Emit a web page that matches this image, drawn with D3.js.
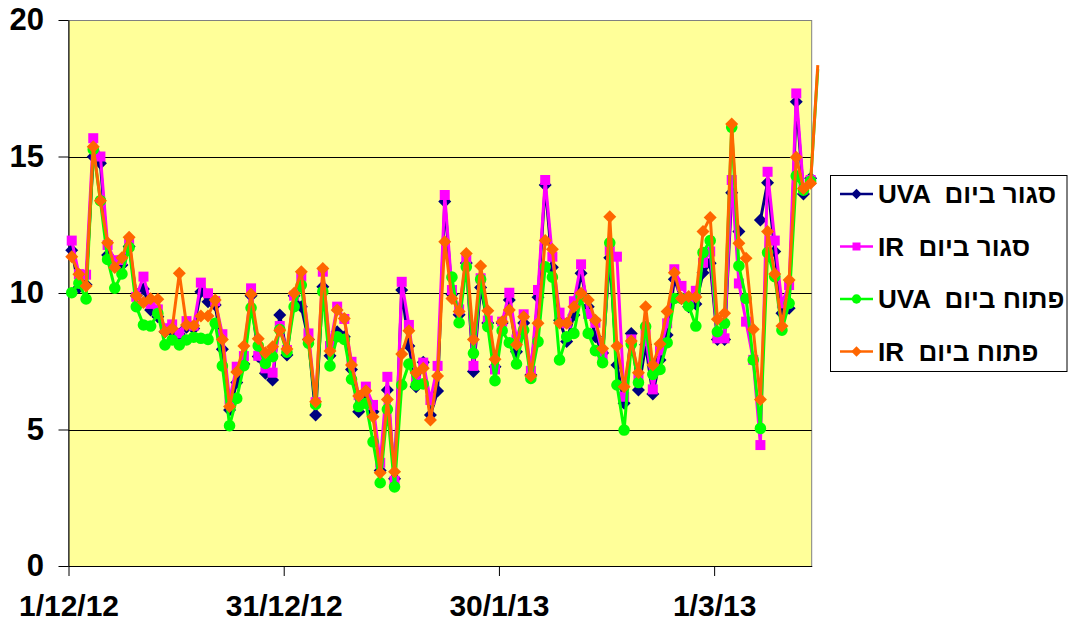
<!DOCTYPE html>
<html>
<head>
<meta charset="utf-8">
<script src="https://cdn.jsdelivr.net/npm/d3@7"></script>
<style>
body { margin: 0; background: #fff; }
text { font-family: "Liberation Sans", Arial, sans-serif; font-weight: bold; }
</style>
</head>
<body>
<svg id="chart" width="1069" height="623"></svg>
<script>
// x axis: day offsets from 1/12/12
var tickDays = [0, 30, 60, 90];
var tickLabels = ["1/12/12", "31/12/12", "30/1/13", "1/3/13"];
var yTicks = [0, 5, 10, 15, 20];

// one value per day, null = no reading
var uvaClosed = [11.57,10.2,10.3,14.99,14.75,11.39,11.1,11.03,11.7,9.9,
  10.15,9.38,9.13,8.58,8.6,8.5,8.75,8.7,10.05,9.68,
  9.56,7.94,5.71,6.72,7.4,9.9,7.67,7.06,6.81,9.19,
  7.73,9.9,9.5,8.3,5.53,10.23,7.7,8.58,8.4,7.2,
  5.65,6.1,5.65,3.5,6.45,3.2,10.11,8.06,6.57,7.46,
  5.53,6.41,13.35,9.95,9.2,11.1,7.12,10.2,8.9,7.3,
  8.9,9.74,7.85,8.9,7.0,9.84,13.96,10.94,9.0,8.22,
  9.19,10.72,9.5,8.4,7.8,11.29,7.36,5.96,8.52,6.45,
  8.1,6.3,7.55,8.46,10.5,9.8,9.5,9.6,10.74,11.09,
  8.3,8.3,13.67,12.25,null,null,12.67,14.04,11.52,9.26,
  9.44,17.01,13.63,14.2,null];
var irClosed = [11.92,10.69,10.67,15.67,15.0,11.76,11.2,11.21,11.9,9.86,
  10.6,9.6,9.4,8.71,8.85,8.52,8.97,8.8,10.38,9.99,
  9.7,8.49,6.1,7.3,7.69,10.17,7.7,7.24,7.08,8.79,
  7.91,9.9,10.6,8.52,6.0,10.78,8.06,9.5,9.05,7.48,
  6.26,6.57,5.9,3.78,6.93,3.12,10.41,8.83,6.8,7.45,
  6.08,7.33,13.59,10.11,9.4,11.21,7.33,10.54,8.99,7.2,
  8.95,10.01,8.3,9.22,7.15,10.11,14.14,11.33,9.28,8.89,
  9.7,11.05,9.23,8.91,7.73,11.57,11.33,6.2,8.3,6.9,
  8.46,6.47,7.9,8.89,10.87,10.26,9.8,10.08,11.11,11.52,
  8.34,8.34,14.14,10.35,8.95,7.55,4.43,14.44,11.92,9.62,
  10.29,17.31,13.8,14.14,null];
var uvaOpen = [10.01,10.36,9.78,15.26,13.38,11.23,10.18,10.7,11.67,9.5,
  8.83,8.79,9.25,8.1,8.28,8.1,8.28,8.38,8.34,8.3,
  8.89,7.33,5.14,6.14,7.34,9.46,8.06,7.42,7.67,8.66,
  7.83,9.5,10.29,8.16,5.92,10.05,7.33,8.4,8.3,6.84,
  5.84,5.96,4.55,3.05,5.74,2.9,6.63,7.4,6.63,6.67,
  null,null,null,10.58,8.91,10.96,7.79,10.5,8.77,6.79,
  8.62,8.18,7.4,8.64,6.87,8.22,10.96,10.58,7.55,8.4,
  8.52,9.87,8.52,7.89,7.45,11.84,6.63,4.98,8.13,6.72,
  8.77,7.02,7.2,8.18,9.8,9.8,9.52,8.79,11.48,11.92,
  8.58,8.89,16.07,10.99,9.8,7.55,5.04,11.48,10.6,8.64,
  9.62,14.29,13.77,14.1,18.2];
var irOpen = [11.33,10.69,10.26,15.36,13.38,11.84,10.93,11.29,12.04,9.9,
  9.65,9.79,9.77,8.58,8.7,10.72,8.83,8.8,9.16,9.16,
  9.74,8.3,5.84,7.11,8.06,9.95,8.32,7.81,8.03,8.64,
  7.95,9.99,10.78,8.3,6.02,10.9,7.88,9.38,9.07,7.36,
  6.23,6.42,5.47,3.42,6.1,3.45,7.77,8.62,7.08,7.24,
  5.35,6.96,11.88,9.8,9.32,11.45,8.3,10.99,9.35,7.57,
  8.95,9.38,8.1,9.13,6.96,8.89,11.92,11.6,8.9,8.89,
  9.5,9.99,9.74,9.0,7.97,12.79,8.06,6.57,8.24,7.08,
  9.5,7.36,8.13,9.32,10.74,9.8,9.87,9.85,12.25,12.77,
  9.04,9.26,16.19,11.82,11.27,8.67,6.1,12.25,10.7,8.79,
  10.48,14.97,13.83,14.02,18.35];

var bands = ["UVA", "IR", "UVA", "IR"];
var states = ["סגור ביום", "סגור ביום", "פתוח ביום", "פתוח ביום"];
var colors = ["#000080", "#ff00ff", "#00ff00", "#ff6600"];
var shapes = ["diamond", "square", "circle", "diamond"];
var allSeries = [uvaClosed, irClosed, uvaOpen, irOpen];

var plotLeft = 68.5, plotRight = 811.7, plotTop = 20, plotBottom = 566;
var svg = d3.select("#chart");

var x = d3.scaleLinear().domain([0, 103.6]).range([plotLeft, plotRight]);
var y = d3.scaleLinear().domain([0, 20]).range([plotBottom, plotTop]);

// plot area
svg.append("rect")
  .attr("x", plotLeft).attr("y", plotTop + 0.5)
  .attr("width", plotRight - plotLeft).attr("height", plotBottom - plotTop)
  .attr("fill", "#ffff99")
  .attr("stroke", "#808080").attr("stroke-width", 1);

svg.selectAll(".grid")
  .data(yTicks.filter(function(d) { return d > 0 && d < 20; }))
  .enter().append("line")
  .attr("x1", plotLeft).attr("x2", plotRight)
  .attr("y1", function(d) { return Math.round(y(d)) + 0.5; })
  .attr("y2", function(d) { return Math.round(y(d)) + 0.5; })
  .attr("stroke", "#000").attr("stroke-width", 1);

// axes
var yAxis = svg.append("g")
  .attr("transform", "translate(" + plotLeft + ",0)")
  .call(d3.axisLeft(y).tickValues(yTicks).tickSize(10).tickPadding(14.5).tickSizeOuter(0));
yAxis.selectAll("text").attr("font-size", "31px").attr("fill", "#000");

var xAxis = svg.append("g")
  .attr("transform", "translate(0," + plotBottom + ")")
  .call(d3.axisBottom(x).tickValues(tickDays)
    .tickFormat(function(d, i) { return tickLabels[i]; })
    .tickSize(10).tickPadding(19).tickSizeOuter(0));
xAxis.selectAll("text").attr("font-size", "30px").attr("fill", "#000");
svg.selectAll(".domain").attr("stroke", "#000");
svg.selectAll(".tick line").attr("stroke", "#000");

function markerPath(shape, r) {
  if (shape == "diamond") return "M0," + (-r) + "L" + r + ",0L0," + r + "L" + (-r) + ",0Z";
  if (shape == "square") return "M" + (-r) + "," + (-r) + "h" + 2 * r + "v" + 2 * r + "h" + (-2 * r) + "Z";
  return d3.symbol().type(d3.symbolCircle).size(Math.PI * r * r)();
}
var markerSize = { diamond: 6.5, square: 5, circle: 5.8 };

var line = d3.line()
  .defined(function(d) { return d != null; })
  .x(function(d, i) { return x(i + 0.45); })
  .y(function(d) { return y(d); });

allSeries.forEach(function(vals, s) {
  svg.append("path")
    .datum(vals)
    .attr("d", line)
    .attr("fill", "none")
    .attr("stroke", colors[s])
    .attr("stroke-width", 3)
    .attr("stroke-linejoin", "round");

  var pts = vals.map(function(v, i) { return { v: v, i: i }; })
    .filter(function(d) { return d.v != null && x(d.i + 0.45) <= plotRight; });
  svg.selectAll(".m" + s)
    .data(pts)
    .enter().append("path")
    .attr("d", markerPath(shapes[s], markerSize[shapes[s]]))
    .attr("transform", function(d) { return "translate(" + x(d.i + 0.45) + "," + y(d.v) + ")"; })
    .attr("fill", colors[s]);
});

// legend
var legend = svg.append("g");
legend.append("rect")
  .attr("x", 830.5).attr("y", 175.5)
  .attr("width", 236.5).attr("height", 196)
  .attr("fill", "#fff").attr("stroke", "#000").attr("stroke-width", 1);

var items = legend.selectAll(".item")
  .data(bands)
  .enter().append("g")
  .attr("transform", function(d, i) { return "translate(0," + (194 + i * 52.5) + ")"; });
items.append("line")
  .attr("x1", 840).attr("x2", 873)
  .attr("stroke", function(d, i) { return colors[i]; })
  .attr("stroke-width", 2.5);
items.append("path")
  .attr("d", function(d, i) { return markerPath(shapes[i], markerSize[shapes[i]] * 0.8); })
  .attr("transform", "translate(856.5,0)")
  .attr("fill", function(d, i) { return colors[i]; });
items.append("text")
  .attr("x", 878)
  .attr("dy", "0.36em")
  .attr("font-size", "26px")
  .style("white-space", "pre")
  .text(function(d, i) { return d + "  " + states[i]; });
</script>
</body>
</html>
